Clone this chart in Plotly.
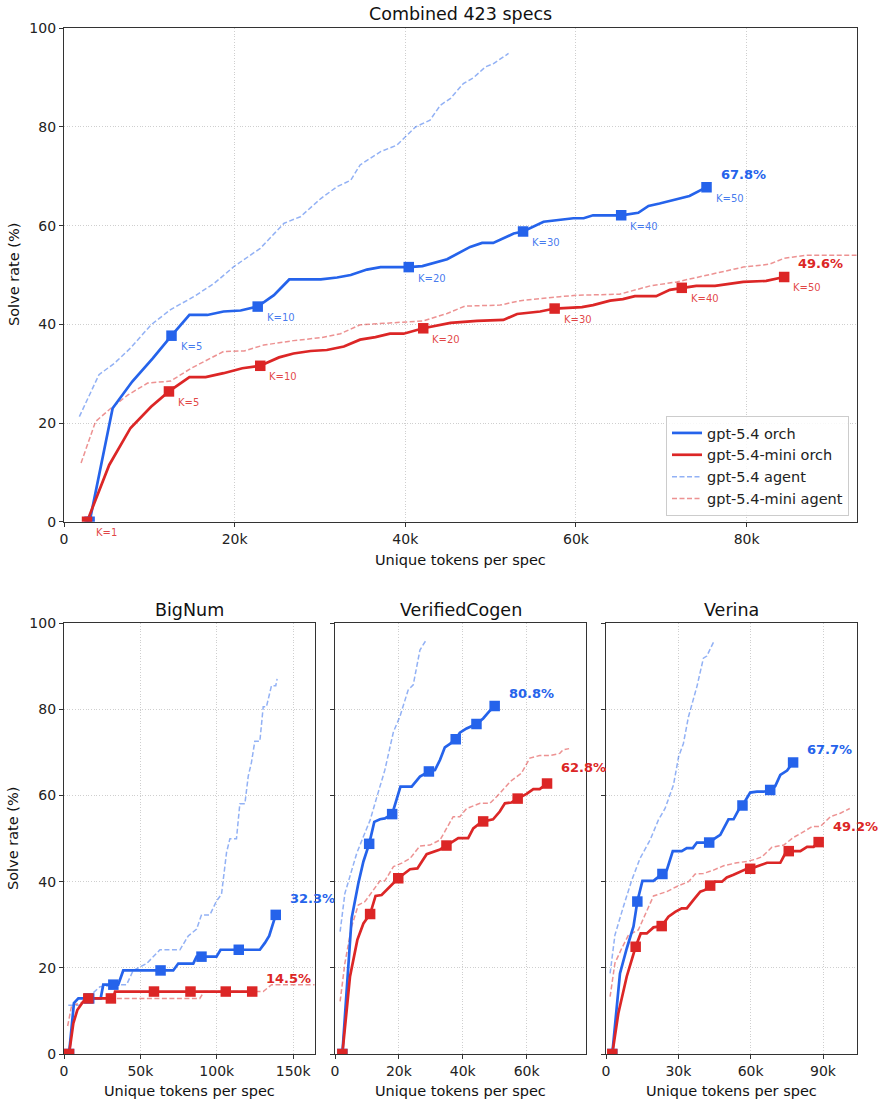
import plotly.graph_objects as go

# ---------------- data (x in thousands of unique tokens per spec, y in %) ----------------
# Combined 423 specs
comb_blue_orch_x = [3.0, 5.7, 8.0, 10.4, 12.6, 14.7, 16.8, 18.7, 20.7, 22.7, 24.6, 26.4, 30.1, 32.0, 33.6, 35.5, 37.1, 39.8, 40.4, 42.0, 44.9, 47.6, 49.0, 50.3, 52.7, 53.8, 56.2, 59.7, 60.9, 62.0, 64.7, 65.3, 67.3, 68.5, 69.8, 71.8, 73.3, 75.3]
comb_blue_orch_y = [0, 23.0, 28.4, 33.1, 37.7, 41.9, 41.9, 42.6, 42.8, 43.6, 45.9, 49.1, 49.1, 49.5, 50.0, 51.1, 51.6, 51.6, 51.6, 51.8, 53.2, 55.7, 56.5, 56.5, 58.4, 58.8, 60.8, 61.5, 61.5, 62.1, 62.1, 62.1, 62.6, 64.0, 64.5, 65.3, 66.0, 67.8]
comb_red_orch_x = [2.7, 5.3, 7.8, 10.2, 12.3, 14.7, 16.6, 18.7, 20.9, 23.0, 25.2, 26.9, 28.9, 30.8, 32.8, 34.7, 36.5, 38.2, 39.8, 42.1, 45.3, 48.4, 51.5, 53.1, 55.8, 57.5, 60.7, 62.0, 64.0, 65.5, 66.9, 69.4, 71.0, 72.4, 74.1, 76.3, 77.6, 79.6, 82.3, 84.4]
comb_red_orch_y = [0, 11.5, 19.0, 23.3, 26.4, 29.3, 29.3, 30.1, 31.1, 31.6, 33.3, 34.1, 34.6, 34.8, 35.5, 36.9, 37.4, 38.1, 38.1, 39.2, 40.3, 40.7, 40.9, 42.1, 42.6, 43.2, 43.5, 43.9, 44.8, 45.1, 45.7, 45.7, 47.0, 47.4, 47.8, 47.8, 48.1, 48.6, 48.8, 49.6]
comb_blue_agent_x = [1.8, 4.1, 5.9, 7.8, 10.2, 12.5, 15.2, 17.6, 19.9, 23.0, 25.8, 27.7, 30.1, 32.0, 33.6, 34.7, 37.1, 39.0, 41.2, 42.9, 44.1, 45.3, 46.8, 48.0, 49.4, 50.3, 52.1]
comb_blue_agent_y = [21.3, 29.8, 32.1, 35.2, 39.9, 43.0, 45.6, 48.3, 51.7, 55.4, 60.5, 61.8, 65.5, 67.9, 69.2, 72.3, 75.0, 76.3, 80.0, 81.4, 84.4, 85.8, 88.8, 90.0, 92.2, 92.8, 94.9]
comb_red_agent_x = [2.0, 3.7, 5.5, 7.5, 9.8, 12.5, 14.9, 16.8, 18.7, 21.1, 23.4, 26.9, 30.1, 32.4, 34.7, 37.5, 42.1, 44.9, 47.0, 51.1, 53.5, 58.1, 60.1, 65.1, 67.1, 68.7, 71.8, 75.3, 79.6, 82.7, 84.4, 87.0, 90.1, 93.5]
comb_red_agent_y = [11.9, 20.3, 23.0, 25.7, 28.1, 28.5, 31.1, 32.8, 34.5, 34.6, 35.8, 36.7, 37.3, 38.1, 39.9, 40.2, 40.7, 42.2, 43.7, 43.9, 44.8, 45.6, 45.9, 46.1, 47.0, 47.8, 48.6, 50.0, 51.6, 52.2, 53.4, 54.0, 54.0, 54.0]
k_values = [1, 5, 10, 20, 30, 40, 50]
comb_blue_mk_x = [3.0, 12.6, 22.7, 40.4, 53.8, 65.3, 75.3]
comb_blue_mk_y = [0, 37.7, 43.6, 51.6, 58.8, 62.1, 67.8]
comb_red_mk_x = [2.7, 12.3, 23.0, 42.1, 57.5, 72.4, 84.4]
comb_red_mk_y = [0, 26.4, 31.6, 39.2, 43.2, 47.4, 49.6]

# BigNum
big_blue_orch_x = [3.3, 6.5, 9.4, 16.5, 19.2, 24.0, 25.7, 32.3, 35.5, 38.8, 63.2, 71.5, 74.8, 84.6, 86.8, 90.0, 99.8, 102.5, 114.4, 128.2, 131.5, 134.3, 138.6]
big_blue_orch_y = [0, 11.8, 12.9, 12.9, 12.9, 12.9, 16.1, 16.1, 16.1, 19.4, 19.4, 19.4, 21.0, 21.0, 22.6, 22.6, 22.6, 24.2, 24.2, 24.2, 25.8, 27.4, 32.3]
big_red_orch_x = [3.3, 6.1, 8.7, 12.6, 15.9, 30.7, 32.3, 33.4, 58.9, 82.8, 105.9, 123.2]
big_red_orch_y = [0, 7.1, 10.2, 12.2, 12.9, 12.9, 12.9, 14.5, 14.5, 14.5, 14.5, 14.5]
big_blue_agent_x = [2.8, 10.0, 15.0, 23.5, 36.6, 41.0, 45.3, 54.1, 62.8, 75.9, 81.3, 86.8, 90.0, 95.5, 99.8, 103.1, 106.4, 108.6, 112.9, 115.1, 118.4, 120.6, 122.7, 124.9, 128.2, 130.4, 132.5, 135.8, 138.6, 139.5]
big_blue_agent_y = [11.3, 11.3, 12.9, 15.6, 16.1, 16.1, 19.4, 21.0, 24.2, 24.2, 27.4, 29.0, 32.3, 32.3, 35.5, 37.1, 46.8, 50.0, 50.0, 58.1, 58.1, 64.5, 67.7, 72.6, 72.6, 80.6, 80.6, 85.5, 85.5, 87.1]
big_red_agent_x = [2.4, 5.0, 10.5, 18.1, 88.9, 91.6, 130.4, 135.9, 164.0]
big_red_agent_y = [6.5, 11.3, 11.8, 12.9, 12.9, 14.5, 14.5, 16.1, 16.1]
big_blue_mk_x = [3.3, 16.5, 32.3, 63.2, 90.0, 114.4, 138.6]
big_blue_mk_y = [0, 12.9, 16.1, 19.4, 22.6, 24.2, 32.3]
big_red_mk_x = [3.3, 15.9, 30.7, 58.9, 82.8, 105.9, 123.2]
big_red_mk_y = [0, 12.9, 12.9, 14.5, 14.5, 14.5, 14.5]

# VerifiedCogen
vc_blue_orch_x = [2.3, 5.2, 7.3, 8.9, 10.7, 12.3, 14.1, 15.6, 17.9, 20.5, 24.0, 26.6, 29.4, 31.3, 32.9, 34.4, 36.0, 37.8, 39.1, 41.2, 44.3, 46.4, 48.5, 50.0]
vc_blue_orch_y = [0, 31.5, 39.6, 44.7, 48.8, 53.9, 54.5, 54.7, 55.7, 62.1, 62.1, 64.4, 65.6, 65.9, 68.3, 71.2, 72.0, 73.1, 74.6, 75.6, 76.6, 77.9, 79.7, 80.8]
vc_red_orch_x = [2.3, 4.7, 7.0, 8.9, 11.0, 12.7, 14.6, 17.2, 19.8, 23.5, 25.8, 28.7, 30.8, 32.9, 34.9, 38.6, 41.7, 43.3, 45.4, 46.4, 49.5, 51.6, 53.2, 55.3, 57.2, 60.0, 62.1, 64.1, 66.4]
vc_red_orch_y = [0, 18.0, 26.5, 30.3, 32.5, 36.7, 36.9, 38.9, 40.8, 42.9, 43.1, 46.4, 47.0, 47.5, 48.4, 50.1, 50.1, 52.4, 53.6, 54.0, 54.5, 56.3, 58.2, 58.4, 59.3, 60.4, 61.5, 61.5, 62.8]
vc_blue_agent_x = [1.6, 3.1, 4.7, 6.8, 8.9, 11.0, 13.0, 15.6, 18.3, 20.3, 22.9, 24.5, 26.6, 28.7]
vc_blue_agent_y = [28.4, 37.3, 41.3, 46.6, 50.5, 54.3, 59.4, 65.9, 74.8, 78.3, 84.5, 85.7, 93.8, 96.3]
vc_red_agent_x = [1.6, 3.1, 5.2, 7.3, 9.4, 12.0, 14.1, 15.6, 18.3, 20.9, 23.5, 26.6, 29.7, 32.9, 37.0, 39.1, 41.2, 45.4, 48.5, 51.6, 54.8, 58.4, 61.0, 64.1, 67.3, 70.4, 71.4, 73.3]
vc_red_agent_y = [12.2, 21.1, 29.6, 34.6, 35.4, 38.1, 40.2, 40.2, 43.5, 44.3, 45.4, 48.3, 48.5, 49.7, 55.1, 55.1, 57.0, 58.2, 58.2, 60.5, 63.2, 65.2, 68.7, 69.3, 69.3, 69.8, 70.6, 70.9]
vc_blue_mk_x = [2.3, 10.7, 17.9, 29.4, 37.8, 44.3, 50.0]
vc_blue_mk_y = [0, 48.8, 55.7, 65.6, 73.1, 76.6, 80.8]
vc_red_mk_x = [2.3, 11.0, 19.8, 34.9, 46.4, 57.2, 66.4]
vc_red_mk_y = [0, 32.5, 40.8, 48.4, 54.0, 59.3, 62.8]

# Verina
ver_blue_orch_x = [2.6, 5.8, 8.6, 11.4, 13.0, 15.1, 19.7, 23.4, 25.2, 27.7, 31.4, 33.5, 36.0, 37.7, 42.8, 45.3, 47.4, 50.8, 52.9, 55.7, 56.6, 59.8, 62.6, 65.4, 68.1, 70.2, 72.3, 75.1, 77.6]
ver_blue_orch_y = [0, 18.7, 24.5, 29.6, 35.4, 40.2, 40.2, 41.8, 42.7, 47.1, 47.1, 47.8, 47.8, 49.1, 49.1, 50.1, 50.9, 54.5, 54.5, 57.4, 57.7, 60.7, 60.9, 60.9, 61.3, 62.2, 64.8, 65.8, 67.7]
ver_red_orch_x = [2.6, 5.1, 8.6, 12.3, 14.4, 16.9, 19.7, 23.1, 25.9, 28.7, 31.4, 33.5, 36.3, 39.1, 41.1, 43.2, 45.3, 48.1, 50.1, 52.9, 55.7, 58.4, 59.8, 63.3, 66.8, 72.3, 74.4, 75.8, 80.6, 83.4, 86.1, 88.2]
ver_red_orch_y = [0, 9.4, 18.0, 24.9, 28.0, 28.0, 29.4, 29.7, 31.9, 33.0, 33.8, 33.8, 35.8, 37.7, 38.1, 39.1, 40.0, 40.0, 41.0, 41.6, 42.3, 43.0, 43.0, 43.7, 44.4, 44.4, 46.6, 47.1, 47.1, 48.1, 48.1, 49.2]
ver_blue_agent_x = [1.7, 3.7, 7.2, 10.7, 14.1, 18.3, 21.7, 24.5, 28.0, 30.1, 32.1, 34.2, 37.7, 40.4, 41.8, 43.2, 45.0]
ver_blue_agent_y = [18.7, 27.6, 34.2, 40.4, 45.4, 49.7, 54.3, 57.0, 62.5, 69.0, 72.1, 78.3, 85.3, 91.9, 92.4, 94.2, 96.1]
ver_red_agent_x = [1.7, 3.7, 6.5, 9.3, 13.4, 16.9, 19.7, 25.2, 29.4, 34.2, 37.0, 40.4, 44.6, 48.8, 54.3, 58.4, 61.9, 64.7, 68.8, 73.7, 77.8, 81.3, 85.5, 88.9, 93.1, 97.2, 101.1]
ver_red_agent_y = [13.3, 21.1, 24.5, 27.6, 28.8, 33.0, 36.7, 37.7, 38.9, 40.0, 41.8, 41.9, 42.7, 43.7, 44.4, 44.7, 45.2, 45.8, 48.0, 48.5, 50.3, 51.4, 52.8, 52.8, 55.1, 55.9, 57.0]
ver_blue_mk_x = [2.6, 13.0, 23.4, 42.8, 56.6, 68.1, 77.6]
ver_blue_mk_y = [0, 35.4, 41.8, 49.1, 57.7, 61.3, 67.7]
ver_red_mk_x = [2.6, 12.3, 23.1, 43.2, 59.8, 75.8, 88.2]
ver_red_mk_y = [0, 24.9, 29.7, 39.1, 43.0, 47.1, 49.2]

# tick labels
y_ticks = [0, 20, 40, 60, 80, 100]
comb_xticks = [0, 20, 40, 60, 80]
comb_xtext = ["0", "20k", "40k", "60k", "80k"]
big_xticks = [0, 50, 100, 150]
big_xtext = ["0", "50k", "100k", "150k"]
vc_xticks = [0, 20, 40, 60]
vc_xtext = ["0", "20k", "40k", "60k"]
ver_xticks = [0, 30, 60, 90]
ver_xtext = ["0", "30k", "60k", "90k"]

series_names = ["gpt-5.4 orch", "gpt-5.4-mini orch", "gpt-5.4 agent", "gpt-5.4-mini agent"]

# ---------------- styles ----------------
BLUE = "#2563eb"
RED = "#dc2626"
BLUE_L = "rgba(37,99,235,0.5)"
RED_L = "rgba(220,38,38,0.5)"
FONT = "DejaVu Sans"
W, H = 882, 1106

fig = go.Figure()

panels = [
    dict(ax="", name="Combined 423 specs",
         bo=(comb_blue_orch_x, comb_blue_orch_y), ro=(comb_red_orch_x, comb_red_orch_y),
         ba=(comb_blue_agent_x, comb_blue_agent_y), ra=(comb_red_agent_x, comb_red_agent_y),
         bm=(comb_blue_mk_x, comb_blue_mk_y), rm=(comb_red_mk_x, comb_red_mk_y),
         legend=True, pct_shift=(13, 13)),
    dict(ax="2", name="BigNum",
         bo=(big_blue_orch_x, big_blue_orch_y), ro=(big_red_orch_x, big_red_orch_y),
         ba=(big_blue_agent_x, big_blue_agent_y), ra=(big_red_agent_x, big_red_agent_y),
         bm=(big_blue_mk_x, big_blue_mk_y), rm=(big_red_mk_x, big_red_mk_y),
         legend=False, pct_shift=(16, 13)),
    dict(ax="3", name="VerifiedCogen",
         bo=(vc_blue_orch_x, vc_blue_orch_y), ro=(vc_red_orch_x, vc_red_orch_y),
         ba=(vc_blue_agent_x, vc_blue_agent_y), ra=(vc_red_agent_x, vc_red_agent_y),
         bm=(vc_blue_mk_x, vc_blue_mk_y), rm=(vc_red_mk_x, vc_red_mk_y),
         legend=False, pct_shift=(12, 16)),
    dict(ax="4", name="Verina",
         bo=(ver_blue_orch_x, ver_blue_orch_y), ro=(ver_red_orch_x, ver_red_orch_y),
         ba=(ver_blue_agent_x, ver_blue_agent_y), ra=(ver_red_agent_x, ver_red_agent_y),
         bm=(ver_blue_mk_x, ver_blue_mk_y), rm=(ver_red_mk_x, ver_red_mk_y),
         legend=False, pct_shift=(13, 16)),
]

DASH = "5px,2.5px"
annotations = []
for p in panels:
    xa, ya = "x" + p["ax"], "y" + p["ax"]
    sl = p["legend"]
    fig.add_trace(go.Scatter(x=p["ba"][0], y=p["ba"][1], mode="lines", xaxis=xa, yaxis=ya,
                             line=dict(color=BLUE_L, width=1.5, dash=DASH),
                             name=series_names[2], showlegend=sl, legendrank=3, hoverinfo="skip"))
    fig.add_trace(go.Scatter(x=p["ra"][0], y=p["ra"][1], mode="lines", xaxis=xa, yaxis=ya,
                             line=dict(color=RED_L, width=1.5, dash=DASH),
                             name=series_names[3], showlegend=sl, legendrank=4, hoverinfo="skip"))
    fig.add_trace(go.Scatter(x=p["bo"][0], y=p["bo"][1], mode="lines", xaxis=xa, yaxis=ya,
                             line=dict(color=BLUE, width=2.7),
                             name=series_names[0], showlegend=sl, legendrank=1))
    fig.add_trace(go.Scatter(x=p["ro"][0], y=p["ro"][1], mode="lines", xaxis=xa, yaxis=ya,
                             line=dict(color=RED, width=2.7),
                             name=series_names[1], showlegend=sl, legendrank=2))
    fig.add_trace(go.Scatter(x=p["bm"][0], y=p["bm"][1], mode="markers", xaxis=xa, yaxis=ya,
                             marker=dict(symbol="square", size=10.5, color=BLUE, line=dict(width=0)),
                             showlegend=False))
    fig.add_trace(go.Scatter(x=p["rm"][0], y=p["rm"][1], mode="markers", xaxis=xa, yaxis=ya,
                             marker=dict(symbol="square", size=10.5, color=RED, line=dict(width=0)),
                             showlegend=False))
    # final value labels
    bshift, rshift = p["pct_shift"]
    annotations.append(dict(x=p["bm"][0][-1], y=p["bm"][1][-1], xref=xa, yref=ya,
                            text=f"<b>{p['bm'][1][-1]:.1f}%</b>", showarrow=False,
                            xanchor="left", yanchor="middle", xshift=12, yshift=bshift,
                            font=dict(family=FONT, size=13, color=BLUE)))
    annotations.append(dict(x=p["rm"][0][-1], y=p["rm"][1][-1], xref=xa, yref=ya,
                            text=f"<b>{p['rm'][1][-1]:.1f}%</b>", showarrow=False,
                            xanchor="left", yanchor="middle", xshift=12, yshift=rshift,
                            font=dict(family=FONT, size=13, color=RED)))
    if p["ax"] == "":
        # the blue K=1 label sits beneath the red one in the original, so only red shows it
        for (mx, my, col, ks) in [(p["bm"][0], p["bm"][1], "rgba(37,99,235,0.85)", k_values[1:]),
                                  (p["rm"][0], p["rm"][1], "rgba(220,38,38,0.85)", k_values)]:
            off = len(mx) - len(ks)
            for k, xv, yv in zip(ks, mx[off:], my[off:]):
                annotations.append(dict(x=xv, y=yv, xref=xa, yref=ya, text=f"K={k}",
                                        showarrow=False, xanchor="left", yanchor="middle",
                                        xshift=7, yshift=-11,
                                        font=dict(family=FONT, size=10, color=col)))

# ---------------- layout ----------------
def px_x(v):
    return v / W

def px_y(v):
    return 1 - v / H

axis_common = dict(showline=True, mirror=True, linecolor="#333", linewidth=1.2,
                   ticks="outside", ticklen=4, tickwidth=1, tickcolor="#333",
                   showgrid=True, gridcolor="#cfcfcf", griddash="1px,1.7px", gridwidth=0.9,
                   zeroline=False, automargin=False,
                   tickfont=dict(family=FONT, size=14, color="#222"))

top_dom_y = [px_y(521.7), px_y(28.3)]
bot_dom_y = [px_y(1054), px_y(623.3)]
dom = {
    "": ([px_x(64), px_x(856.7)], top_dom_y, [0, 92.9], comb_xticks, comb_xtext, True),
    "2": ([px_x(64), px_x(315)], bot_dom_y, [0, 164.3], big_xticks, big_xtext, True),
    "3": ([px_x(335), px_x(586)], bot_dom_y, [0, 78.6], vc_xticks, vc_xtext, False),
    "4": ([px_x(606), px_x(857)], bot_dom_y, [0, 104.1], ver_xticks, ver_xtext, False),
}
layout_axes = {}
for ax, (dx, dy, xr, xt, xtt, ylab) in dom.items():
    layout_axes["xaxis" + ax] = dict(axis_common, domain=dx, range=xr, tickvals=xt, ticktext=xtt,
                                     anchor="y" + ax)
    layout_axes["yaxis" + ax] = dict(axis_common, domain=dy, range=[0, 100], tickvals=y_ticks,
                                     showticklabels=ylab, anchor="x" + ax)

def title_ann(text, xc, yc, size, angle=0):
    return dict(text=text, x=px_x(xc), y=px_y(yc), xref="paper", yref="paper", showarrow=False,
                xanchor="center", yanchor="middle", textangle=angle,
                font=dict(family=FONT, size=size, color="#111"))

annotations += [
    title_ann("Combined 423 specs", 460, 14, 17.5),
    title_ann("BigNum", 189.5, 610, 17.5),
    title_ann("VerifiedCogen", 460.5, 610, 17.5),
    title_ann("Verina", 731.5, 610, 17.5),
    title_ann("Unique tokens per spec", 460, 560, 14.5),
    title_ann("Unique tokens per spec", 189.5, 1091, 14.5),
    title_ann("Unique tokens per spec", 460.5, 1091, 14.5),
    title_ann("Unique tokens per spec", 731.5, 1091, 14.5),
    title_ann("Solve rate (%)", 14, 275, 14.5, -90),
    title_ann("Solve rate (%)", 13, 839, 14.5, -90),
]

fig.update_layout(
    width=W, height=H, margin=dict(l=0, r=0, t=0, b=0, autoexpand=False),
    paper_bgcolor="white", plot_bgcolor="white",
    font=dict(family=FONT, size=14, color="#222"),
    showlegend=True,
    legend=dict(x=px_x(849), y=px_y(516), xanchor="right", yanchor="bottom",
                bgcolor="rgba(255,255,255,0.85)", bordercolor="#cccccc", borderwidth=1,
                font=dict(family=FONT, size=14.5, color="#222"), tracegroupgap=0,
                itemwidth=30),
    annotations=annotations,
    **layout_axes,
)

fig.write_html("out.html")
